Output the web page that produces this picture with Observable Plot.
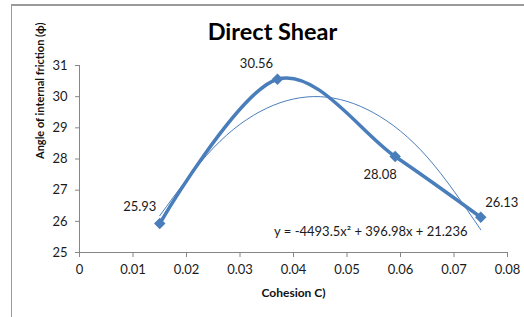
<!DOCTYPE html>
<html>
<head>
<meta charset="utf-8">
<script src="https://cdn.jsdelivr.net/npm/d3@7"></script>
<script src="https://cdn.jsdelivr.net/npm/@observablehq/plot@0.6"></script>
<style>
  html, body { margin: 0; padding: 0; background: #fff; overflow: hidden; width: 524px; height: 317px; }
  #frame { position: absolute; left: 11px; top: 4px; width: 700px; height: 500px; border-top: 2px solid #9a9a9a; border-left: 1.5px solid #9a9a9a; box-sizing: border-box; }
  #chart { position: absolute; left: 0; top: 0; width: 524px; height: 317px; }
  #title { position: absolute; left: 0; width: 545px; top: 16px; line-height: 30px; text-align: center;
           font-family: Lato, "Open Sans", sans-serif; font-weight: bold; font-size: 23.5px; color: #000; }
</style>
</head>
<body>
<div id="frame"></div>
<div id="chart"></div>
<div id="title">Direct Shear</div>
<script>
// ---- data ----
const cohesion = [0.015, 0.037, 0.059, 0.075];
const phi = [25.93, 30.56, 28.08, 26.13];
const phiLabels = ["25.93", "30.56", "28.08", "26.13"];

// polynomial trendline (spans the data range)
const trendX = [0.015, 0.025, 0.035, 0.045, 0.055, 0.065, 0.075];
const trendY = [26.18, 28.35, 29.63, 30.00, 29.48, 28.06, 25.73];
const equationText = "y = -4493.5x² + 396.98x + 21.236";

const xTicks = [0, 0.01, 0.02, 0.03, 0.04, 0.05, 0.06, 0.07, 0.08];
const xTickLabels = ["0", "0.01", "0.02", "0.03", "0.04", "0.05", "0.06", "0.07", "0.08"];
const yTicks = [25, 26, 27, 28, 29, 30, 31];
const yTickLabels = ["25", "26", "27", "28", "29", "30", "31"];

const xLabel = "Cohesion C)";
const yLabel = "Angle of internal friction (\u03D5)";

// ---- build ----
const pts = cohesion.map((c, i) => ({x: c, y: phi[i], label: phiLabels[i]}));
const trend = trendX.map((x, i) => ({x, y: trendY[i]}));

const blue = "#4A7EBB";
const axisGray = "#868686";
const labelOffsets = [[-20, -17], [-21, -15], [-15, 18], [21, -14]];

const chart = Plot.plot({
  width: 524,
  height: 317,
  marginLeft: 79,
  marginRight: 17,
  marginTop: 65,
  marginBottom: 65,
  style: {fontFamily: "Lato, 'Open Sans', sans-serif", fontSize: "13px", color: "#1a1a1a", background: "transparent"},
  x: {domain: [0, 0.08]},
  y: {domain: [25, 31]},
  marks: [
    Plot.ruleX([0], {stroke: axisGray, strokeWidth: 1}),
    Plot.ruleY([25], {stroke: axisGray, strokeWidth: 1}),
    Plot.axisX({ticks: xTicks, tickFormat: (d, i) => xTickLabels[i], tickSize: 5, tickPadding: 7, stroke: axisGray, label: null}),
    Plot.axisY({ticks: yTicks, tickFormat: (d, i) => yTickLabels[i], tickSize: 4, tickPadding: 8, stroke: axisGray, label: null}),
    Plot.text([xLabel], {frameAnchor: "bottom", dy: 41, lineAnchor: "middle", fontWeight: "bold", fontSize: 12, fill: "#111"}),
    Plot.text([yLabel], {frameAnchor: "left", dx: -39, rotate: -90, lineAnchor: "middle", fontWeight: "bold", fontSize: 11, fill: "#111"}),
    Plot.line(trend, {x: "x", y: "y", curve: "natural", stroke: blue, strokeWidth: 1}),
    Plot.line(pts, {x: "x", y: "y", curve: "cardinal", stroke: blue, strokeWidth: 3.5}),
    Plot.dot(pts, {x: "x", y: "y", symbol: "diamond2", r: 4.2, fill: blue, stroke: blue}),
    ...pts.map((p, i) => Plot.text([p], {x: "x", y: "y", text: "label", dx: labelOffsets[i][0], dy: labelOffsets[i][1], fill: "#1a1a1a", fontSize: 13})),
    Plot.text([equationText], {frameAnchor: "bottom-right", dx: -40, dy: -21, textAnchor: "end", lineAnchor: "middle", fill: "#1a1a1a", fontSize: 13})
  ]
});
document.getElementById("chart").appendChild(chart);
</script>
</body>
</html>
